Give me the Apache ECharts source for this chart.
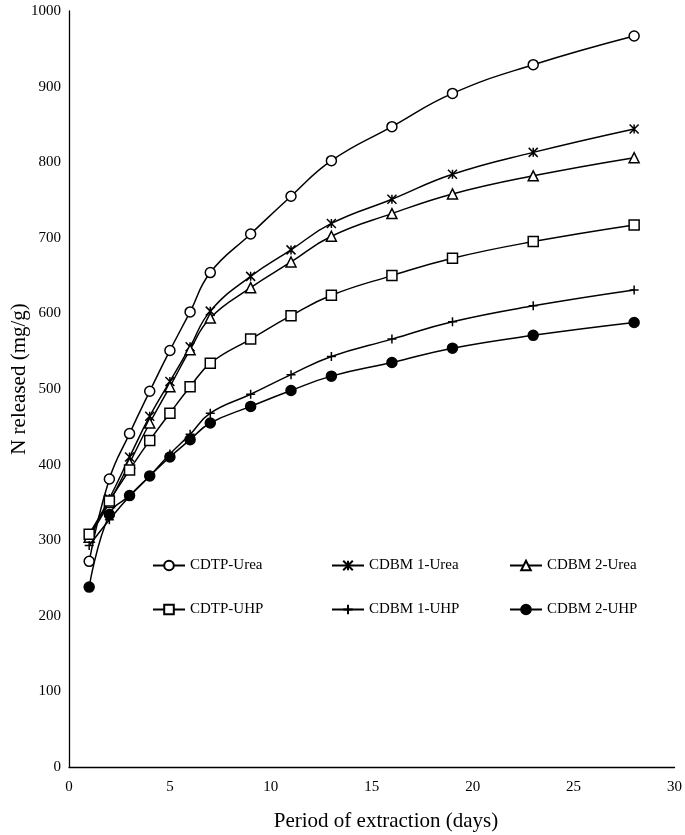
<!DOCTYPE html>
<html>
<head>
<meta charset="utf-8">
<script src="https://cdn.jsdelivr.net/npm/echarts@6/dist/echarts.min.js"></script>
<style>
html,body{margin:0;padding:0;background:#fff;}
#chart{width:685px;height:835px;}
</style>
</head>
<body>
<div id="chart"></div>
<script>
var days = [1,2,3,4,5,6,7,9,11,13,16,19,23,28];
var seriesNames = ['CDTP-Urea','CDBM 1-Urea','CDBM 2-Urea','CDTP-UHP','CDBM 1-UHP','CDBM 2-UHP'];
var cdtpUrea  = [272,381,441,497,551,602,654,705,755,802,847,891,929,967];
var cdbm1Urea = [306,355,410,464,510,556,603,649,684,719,751,784,813,844];
var cdbm2Urea = [304,350,402,455,503,552,594,634,668,702,732,758,782,806];
var cdtpUhp   = [308,352,393,432,468,503,534,566,597,624,650,673,695,717];
var cdbm1Uhp  = [293,327,358,385,414,440,468,493,519,543,566,589,610,631];
var cdbm2Uhp  = [238,334,359,385,410,433,455,477,498,517,535,554,571,588];
var xTitle = 'Period of extraction (days)';
var yTitle = 'N released (mg/g)';

var FONT = '"Liberation Serif", "Times New Roman", serif';
var values = [cdtpUrea, cdbm1Urea, cdbm2Urea, cdtpUhp, cdbm1Uhp, cdbm2Uhp];
var symbols = [
  'circle',
  'path://M0,0L10,10M10,0L0,10M5,0L5,10',
  'triangle',
  'rect',
  'path://M5,0L5,10M0,5L10,5',
  'circle'
];
var fills = ['#fff','#000','#fff','#fff','#000','#000'];
var sizes = [10,9,10,10,9,10];

function pairs(arr){ return days.map(function(d,i){ return [d, arr[i]]; }); }

var series = seriesNames.map(function(name, i){
  return {
    name: name,
    type: 'line',
    smooth: 0.45,
    data: pairs(values[i]),
    symbol: symbols[i],
    symbolSize: sizes[i],
    showAllSymbol: true,
    lineStyle: {color: '#000', width: 1.5},
    itemStyle: {color: fills[i], borderColor: '#000', borderWidth: 1.5},
    emphasis: {disabled: true},
    z: 2 + i
  };
});

var legendPos = [[152,558],[331,558],[509,558],[152,602],[331,602],[509,602]];
var legends = seriesNames.map(function(name, i){
  return {
    data: [name],
    left: legendPos[i][0],
    top: legendPos[i][1],
    itemWidth: 32,
    itemHeight: 12,
    itemGap: 0,
    padding: 0,
    selectedMode: false,
    textStyle: {fontFamily: FONT, fontSize: 15, color: '#000', padding: [0,0,0,0]}
  };
});

var chart = echarts.init(document.getElementById('chart'), null, {renderer: 'canvas'});
chart.setOption({
  backgroundColor: '#fff',
  animation: false,
  grid: {left: 69, right: 10, top: 11, bottom: 68, containLabel: false},
  legend: legends,
  xAxis: {
    type: 'value', min: 0, max: 30, interval: 5,
    axisLine: {lineStyle: {color: '#000', width: 1.3}},
    axisTick: {show: false},
    splitLine: {show: false},
    axisLabel: {fontFamily: FONT, fontSize: 15, color: '#000', margin: 13}
  },
  yAxis: {
    type: 'value', min: 0, max: 1000, interval: 100,
    axisLine: {show: true, lineStyle: {color: '#000', width: 1.3}},
    axisTick: {show: false},
    splitLine: {show: false},
    axisLabel: {fontFamily: FONT, fontSize: 15, color: '#000', margin: 8,
      formatter: function(v){ return String(v); }}
  },
  graphic: [
    {type: 'text', x: 386, y: 821,
     style: {text: xTitle, fontFamily: FONT, fontSize: 21, fill: '#000', textAlign: 'center', textVerticalAlign: 'middle'}},
    {type: 'text', x: 19, y: 379, rotation: Math.PI/2,
     style: {text: yTitle, fontFamily: FONT, fontSize: 21, fill: '#000', textAlign: 'center', textVerticalAlign: 'middle'}}
  ],
  series: series
});
</script>
</body>
</html>
